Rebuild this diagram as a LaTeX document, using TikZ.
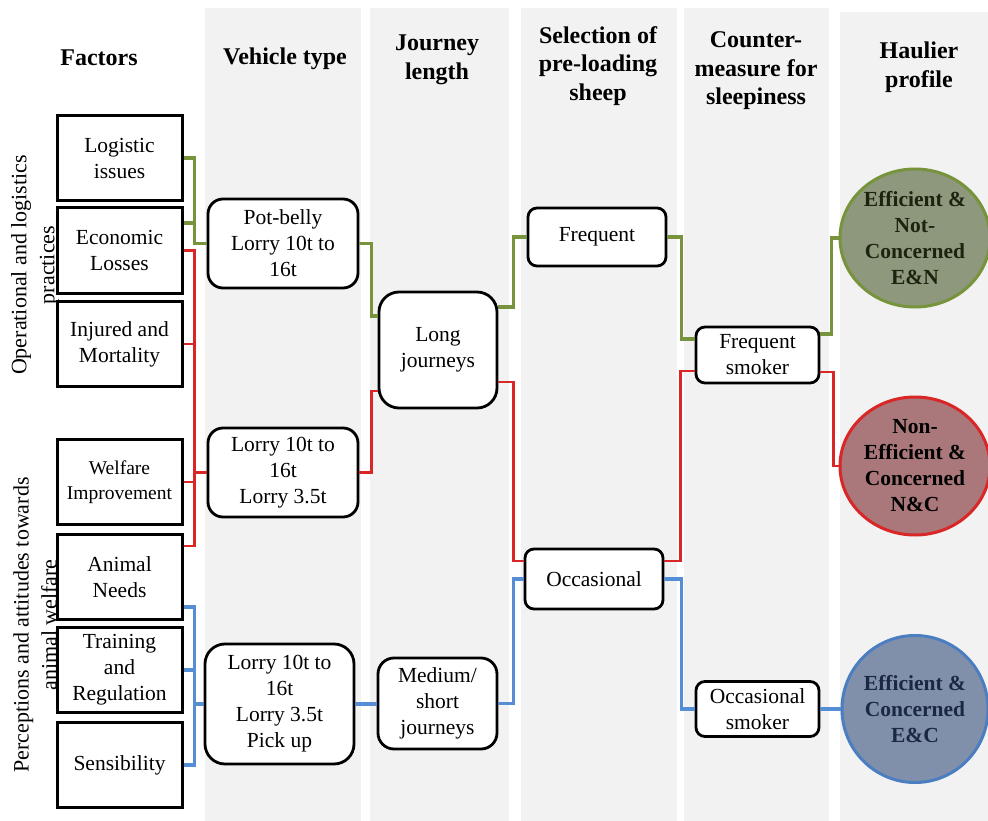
\documentclass[tikz,border=0pt]{standalone}
\usepackage{fontspec}
\setmainfont{Liberation Serif}
\usetikzlibrary{shapes.geometric}
\definecolor{olivegreen}{HTML}{77933C}
\definecolor{linered}{HTML}{D92626}
\definecolor{lineblue}{HTML}{558ED5}
\definecolor{colgrey}{HTML}{F2F2F2}

\begin{document}
\begin{tikzpicture}[x=1pt, y=-1pt,
                    factor/.style = {draw, line width=3pt, fill=white, inner sep=0pt,
                      minimum width=125pt, minimum height=85pt, align=center,
                      font=\fontsize{21.5}{26}\selectfont},
                    roundbox/.style = {draw, line width=2.8pt, fill=white, inner sep=0pt,
                      rounded corners=#1, align=center,
                      font=\fontsize{21.5}{26}\selectfont},
                    head/.style = {align=center, font=\bfseries\fontsize{24}{28.5}\selectfont},
                    side/.style = {rotate=90, align=center, font=\fontsize{22}{28}\selectfont},
                    profile/.style = {ellipse, line width=3pt, inner sep=-6pt, align=center,
                      minimum width=150pt, minimum height=138pt,
                      font=\bfseries\fontsize{21.5}{26}\selectfont},
                    link/.style = {line width=3.3pt},
                    gline/.style = {link, olivegreen},
                    rline/.style = {link, linered, line width=2.8pt},
                    bline/.style = {link, lineblue}]
  \useasboundingbox (0,0) rectangle (988,821);
  \fill[colgrey] (205,8) rectangle (361,821);
  \fill[colgrey] (370,8) rectangle (509,821);
  \fill[colgrey] (521,8) rectangle (677,821);
  \fill[colgrey] (684,8) rectangle (829,821);
  \fill[colgrey] (840,12) rectangle (988,821);

  \node[head] (hfac) at (99,58) {Factors};
  \node[head] (hveh) at (285,59) {Vehicle type};
  \node[head] (hjour) at (437,60) {Journey\\length};
  \node[head] (hsel) at (598,66) {Selection of\\pre-loading\\sheep};
  \node[head] (hcount) at (756,71) {Counter-\\measure for\\sleepiness};
  \node[head] (hprof) at (919,67) {Haulier\\profile};

  \node[factor] (logi) at (119.5,158) {Logistic\\issues};
  \node[factor] (econ) at (119.5,250.5) {Economic\\Losses};
  \node[factor] (inj) at (119.5,344) {Injured and\\Mortality};
  \node[factor, font=\fontsize{19.5}{25}\selectfont] (welf) at (119.5,482) {Welfare\\Improvement};
  \node[factor] (anim) at (119.5,577) {Animal\\Needs};
  \node[factor] (train) at (119.5,670) {Training\\and\\Regulation};
  \node[factor] (sens) at (119.5,765) {Sensibility};

  \node[side] (oplab) at (35,265) {Operational and logistics\\practices};
  \node[side] (perlab) at (35,625) {Perceptions and attitudes towards\\animal welfare};

  \node[roundbox=15pt, minimum width=150pt, minimum height=89pt] (pot) at (283,243.5) {Pot-belly\\Lorry 10t to\\16t};
  \node[roundbox=15pt, minimum width=150pt, minimum height=89pt] (lor2) at (283,472.5) {Lorry 10t to\\16t\\Lorry 3.5t};
  \node[roundbox=20pt, minimum width=149pt, minimum height=120pt] (lor3) at (279.5,704) {Lorry 10t to\\16t\\Lorry 3.5t\\Pick up};

  \node[roundbox=20pt, minimum width=118pt, minimum height=116pt] (long) at (438,350) {Long\\journeys};
  \node[roundbox=16pt, minimum width=119pt, minimum height=91pt] (med) at (437.5,703.5) {Medium/\\short\\journeys};

  \node[roundbox=9pt, minimum width=138pt, minimum height=58pt] (freq) at (597,237) {Frequent};
  \node[roundbox=9pt, minimum width=138pt, minimum height=60pt] (occ) at (594,579) {Occasional};

  \node[roundbox=9pt, minimum width=123pt, minimum height=56pt] (fsmk) at (757.5,355) {Frequent\\smoker};
  \node[roundbox=9pt, minimum width=123pt, minimum height=55pt] (osmk) at (757.5,709) {Occasional\\smoker};

  \node[profile, draw=olivegreen, fill={rgb,255:red,142;green,152;blue,124}, text={rgb,255:red,28;green,36;blue,16}] (en) at (915,238) {Efficient \&\\Not-\\Concerned\\E\&N};
  \node[profile, draw=linered, fill={rgb,255:red,170;green,120;blue,122}, text=black] (nc) at (915,466) {Non-\\Efficient \&\\Concerned\\N\&C};
  \node[profile, draw={rgb,255:red,74;green,126;blue,193}, fill={rgb,255:red,128;green,144;blue,170}, text={rgb,255:red,28;green,40;blue,66}, minimum width=146pt, minimum height=147pt] (ec) at (915,709) {Efficient \&\\Concerned\\E\&C};

  \draw[gline] (logi.east) -- ++(11,0) |- (pot.west);
  \draw[gline] ([yshift=27.5pt]econ.east) -- ++(11,0);
  \draw[gline] (pot.east) -- ++(12,0) |- ([yshift=34pt]long.west);
  \draw[gline] ([yshift=43pt]long.east) -- ++(15,0) |- (freq.west);
  \draw[gline] (freq.east) -- ++(14,0) |- ([yshift=16pt]fsmk.west);
  \draw[gline] ([yshift=21pt]fsmk.east) -- ++(11,0) |- (en.west);

  \draw[rline] (econ.east) -- ++(11,0) |- ([yshift=31pt]anim.east);
  \draw[rline] (inj.east) -- ++(11,0);
  \draw[rline] (welf.east) -- ++(11,0) |- (lor2.west);
  \draw[rline] (lor2.east) -- ++(12,0) |- ([yshift=-41pt]long.west);
  \draw[rline] ([yshift=-32pt]long.east) -- ++(15,0) |- ([yshift=18pt]occ.west);
  \draw[rline] ([yshift=18pt]occ.east) -- ++(16,0) |- ([yshift=-16pt]fsmk.west);
  \draw[rline] ([yshift=-17pt]fsmk.east) -- ++(13,0) |- (nc.west);

  \draw[bline] ([yshift=-30pt]anim.east) -- ++(11,0) |- (sens.east);
  \draw[bline] (train.east) -- ++(11,0) |- (lor3.west);
  \draw[bline] (lor3.east) -- (lor3.east -| med.west);
  \draw[bline] (med.east) -- ++(15,0) |- (occ.west);
  \draw[bline] (occ.east) -- ++(17,0) |- (osmk.west);
  \draw[bline] (osmk.east) -- (ec.west);
\end{tikzpicture}
\end{document}
